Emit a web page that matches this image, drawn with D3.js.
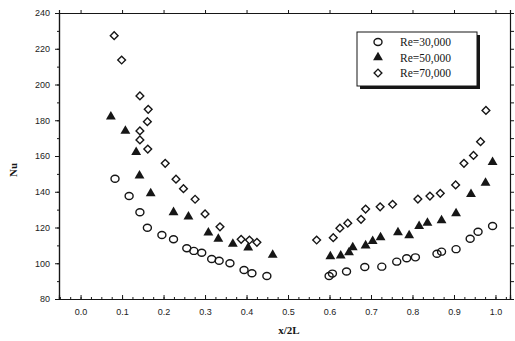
<!DOCTYPE html>
<html>
<head>
<meta charset="utf-8">
<script src="https://cdn.jsdelivr.net/npm/d3@7"></script>
<style>
  body { margin: 0; background: #fff; }
  svg { display: block; }
  .tick text { font-family: Arial, "Liberation Sans", sans-serif; font-size: 9px; fill: #222; }
</style>
</head>
<body>
<div id="chart"></div>
<script>
// Re = 30,000 (open circles)
var x30 = [0.083,0.117,0.143,0.161,0.196,0.224,0.256,0.273,0.292,0.316,0.334,0.360,0.394,0.413,0.449,
           0.599,0.607,0.641,0.685,0.726,0.762,0.786,0.807,0.859,0.870,0.905,0.939,0.958,0.993]
var y30 = [147.3,137.6,128.5,119.9,115.8,113.4,108.4,106.9,105.9,102.4,101.4,100,96.2,94.4,92.9,
           92.9,94.2,95.4,97.9,98.1,100.9,102.8,103.3,105.3,106.5,107.9,113.7,117.6,120.8]
// Re = 50,000 (filled triangles)
var x50 = [0.073,0.108,0.134,0.142,0.169,0.224,0.260,0.308,0.332,0.367,0.404,0.463,
           0.602,0.627,0.647,0.656,0.687,0.704,0.723,0.765,0.792,0.816,0.836,0.870,0.905,0.941,0.976,0.993]
var y50 = [182,174,162.1,149,139.1,128.5,126,117.1,113.6,110.8,108.7,104.6,
           103.8,104.2,106,108.8,109.9,112.4,114.5,117.3,115.6,120.8,122.5,123.9,127.9,138.6,144.9,156.6]
// Re = 70,000 (open diamonds)
var x70 = [0.081,0.099,0.143,0.163,0.161,0.143,0.143,0.162,0.204,0.230,0.248,0.276,0.300,0.336,0.387,0.407,0.425,
           0.569,0.609,0.625,0.644,0.676,0.687,0.722,0.752,0.813,0.842,0.867,0.904,0.924,0.947,0.964,0.977]
var y70 = [227.3,213.7,193.6,186.1,179.2,174,169,163.9,155.9,147,141.7,135.8,127.6,120.4,113.4,113,111.7,
           113,114.3,119.6,122.4,124.6,130.3,131.6,133,135.9,137.6,139.1,143.8,155.9,160.3,168,185.5]

var xTicks = [0,0.1,0.2,0.3,0.4,0.5,0.6,0.7,0.8,0.9,1.0]
var yTicks = [80,100,120,140,160,180,200,220,240]
var legendLabels = ["Re=30,000","Re=50,000","Re=70,000"]

var W = 515, H = 341
var pLeft = 59, pRight = 510, pTop = 13, pBottom = 299

var svg = d3.select('#chart').append('svg')
    .attr('width', W)
    .attr('height', H)

var x = d3.scaleLinear().domain([-0.052, 1.035]).range([pLeft, pRight])
var y = d3.scaleLinear().domain([80, 240]).range([pBottom, pTop])

var ink = '#161616'

// axes
var xMinor = d3.range(-0.05, 1.03, 0.025)
var yMinor = d3.range(80, 241, 10)

svg.append('g').attr('transform', 'translate(0,' + pBottom + ')')
    .call(d3.axisBottom(x).tickValues(xMinor).tickSize(-2).tickFormat(''))
svg.append('g').attr('transform', 'translate(0,' + pBottom + ')')
    .call(d3.axisBottom(x).tickValues(xTicks).tickSize(-4).tickPadding(10)
        .tickFormat(d3.format('.1f')))
svg.append('g').attr('transform', 'translate(0,' + pTop + ')')
    .call(d3.axisTop(x).tickValues(xTicks).tickSize(3).tickFormat(''))
svg.append('g').attr('transform', 'translate(' + pLeft + ',0)')
    .call(d3.axisLeft(y).tickValues(yMinor).tickSize(2).tickFormat(''))
svg.append('g').attr('transform', 'translate(' + pLeft + ',0)')
    .call(d3.axisLeft(y).tickValues(yTicks).tickSize(4).tickPadding(5))
svg.append('g').attr('transform', 'translate(' + pRight + ',0)')
    .call(d3.axisRight(y).tickValues(yMinor).tickSize(4).tickFormat(''))

svg.selectAll('.domain').attr('stroke', ink).attr('stroke-width', 1.2)
svg.selectAll('.tick line').attr('stroke', ink)

// axis titles
svg.append('text')
    .attr('x', 289).attr('y', 334)
    .attr('text-anchor', 'middle')
    .style('font-family', '"Liberation Serif", "DejaVu Serif", serif')
    .style('font-size', '11px').style('font-weight', 'bold')
    .attr('fill', ink)
    .text('x/2L')
svg.append('text')
    .attr('transform', 'translate(17,170) rotate(-90)')
    .attr('text-anchor', 'middle')
    .style('font-family', '"Liberation Serif", "DejaVu Serif", serif')
    .style('font-size', '11px').style('font-weight', 'bold')
    .attr('fill', ink)
    .text('Nu')

// markers
var tri = d3.symbol().type(d3.symbolTriangle).size(42)
var dia = d3.symbol().type(d3.symbolSquare).size(30)

function drawCircle(g, cx, cy) {
    g.append('ellipse').attr('cx', cx).attr('cy', cy).attr('rx', 4).attr('ry', 3.5)
        .attr('fill', 'none').attr('stroke', ink).attr('stroke-width', 1.4)
}
function drawTri(g, cx, cy) {
    g.append('path').attr('d', tri).attr('transform', 'translate(' + cx + ',' + cy + ')')
        .attr('fill', ink)
}
function drawDia(g, cx, cy) {
    g.append('path').attr('d', dia).attr('transform', 'translate(' + cx + ',' + cy + ') rotate(45)')
        .attr('fill', 'none').attr('stroke', ink).attr('stroke-width', 1.4)
}

var pts = svg.append('g')
x30.forEach(function (d, i) { drawCircle(pts, x(d), y(y30[i])) })
x50.forEach(function (d, i) { drawTri(pts, x(d), y(y50[i])) })
x70.forEach(function (d, i) { drawDia(pts, x(d), y(y70[i])) })

// legend
var lg = svg.append('g')
lg.append('rect').attr('x', 360).attr('y', 35).attr('width', 120).attr('height', 54).attr('fill', ink)
lg.append('rect').attr('x', 357).attr('y', 32).attr('width', 120).attr('height', 54)
    .attr('fill', '#fff').attr('stroke', ink).attr('stroke-width', 1)
var drawers = [drawCircle, drawTri, drawDia]
legendLabels.forEach(function (t, i) {
    var ly = 42 + i * 15.5
    drawers[i](lg, 378, ly)
    lg.append('text').attr('x', 400).attr('y', ly + 4)
        .style('font-family', '"Liberation Serif", "DejaVu Serif", serif')
        .style('font-size', '11.5px')
        .attr('fill', ink)
        .text(t)
})
</script>
</body>
</html>
